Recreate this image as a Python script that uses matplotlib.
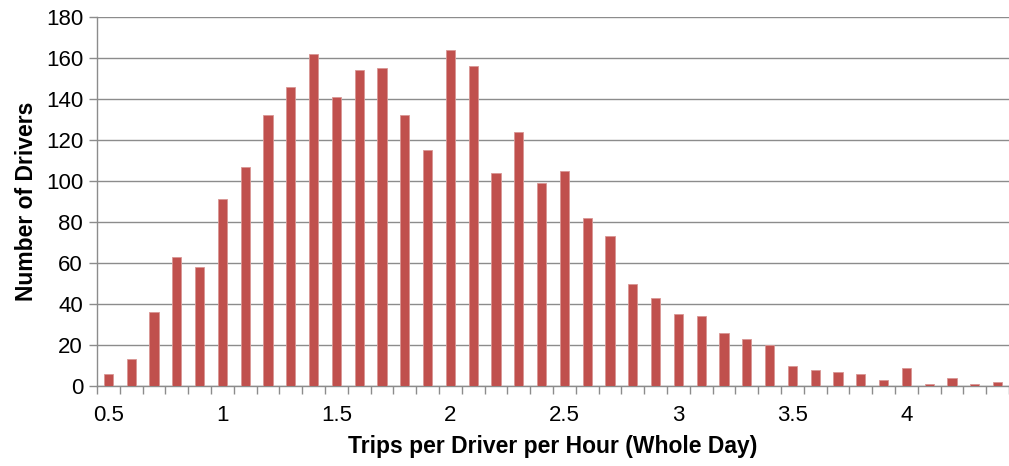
import matplotlib
matplotlib.use("Agg")
import matplotlib.pyplot as plt
import numpy as np

plt.rcParams['font.family'] = ['Liberation Sans', 'DejaVu Sans']

# trips per driver per hour (bin centres) and number of drivers
trip_bins = ["0.5", "0.6", "0.7", "0.8", "0.9", "1", "1.1", "1.2", "1.3", "1.4",
             "1.5", "1.6", "1.7", "1.8", "1.9", "2", "2.1", "2.2", "2.3", "2.4",
             "2.5", "2.6", "2.7", "2.8", "2.9", "3", "3.1", "3.2", "3.3", "3.4",
             "3.5", "3.6", "3.7", "3.8", "3.9", "4", "4.1", "4.2", "4.3", "4.4"]
drivers = [6, 13, 36, 63, 58, 91, 107, 132, 146, 162,
           141, 154, 155, 132, 115, 164, 156, 104, 124, 99,
           105, 82, 73, 50, 43, 35, 34, 26, 23, 20,
           10, 8, 7, 6, 3, 9, 1, 4, 1, 2]
y_ticks = [0, 20, 40, 60, 80, 100, 120, 140, 160, 180]

W, H = 1009, 466
fig = plt.figure(figsize=(W / 100, H / 100), dpi=100)
ax = fig.add_axes([97 / W, 80 / H, (1009 - 97) / W, (386 - 17) / H])

x = np.arange(len(drivers))
ax.bar(x, drivers, width=0.4, color='#C0504D', edgecolor='#D99694', linewidth=0.6, zorder=3)

ax.set_xlim(-0.5, 39.2)
ax.set_ylim(0, 180)
ax.set_yticks(y_ticks)
ax.yaxis.grid(True, color='#8C8C8C', linewidth=1.0, zorder=0)

# labels every 5 categories, tick marks between categories
ax.set_xticks(x[::5])
ax.set_xticklabels(trip_bins[::5])
ax.set_xticks(np.arange(-0.5, len(drivers), 1), minor=True)
ax.tick_params(axis='x', which='major', length=0, pad=14, labelsize=16)
ax.tick_params(axis='x', which='minor', length=6, color='#8C8C8C', width=1.0)
ax.tick_params(axis='y', length=6, color='#8C8C8C', width=1.0, labelsize=16, pad=4)

for side in ['top', 'right']:
    ax.spines[side].set_visible(False)
for side in ['left', 'bottom']:
    ax.spines[side].set_color('#8C8C8C')
    ax.spines[side].set_linewidth(1.0)

ax.set_xlabel('Trips per Driver per Hour (Whole Day)', fontsize=16.5, fontweight='bold', labelpad=6)
ax.set_ylabel('Number of Drivers', fontsize=16.5, fontweight='bold', labelpad=6)

fig.savefig('out.png', dpi=100)
